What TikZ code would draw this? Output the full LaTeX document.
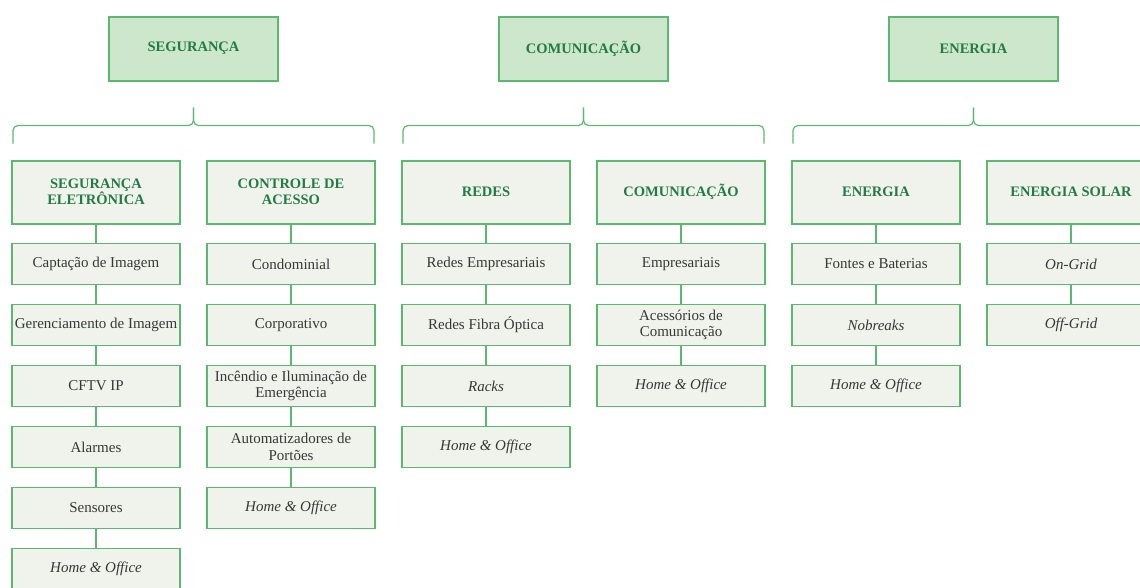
\documentclass[tikz,border=0pt]{standalone}
\usepackage{fontspec}
\setmainfont{Liberation Serif}
\usetikzlibrary{positioning,calc}
\definecolor{boxline}{RGB}{92,184,112}
\definecolor{topfill}{RGB}{204,231,204}
\definecolor{headfill}{RGB}{240,243,236}
\definecolor{headtext}{RGB}{36,122,70}
\definecolor{leaftext}{RGB}{55,55,55}

\begin{document}
\begin{tikzpicture}[x=1pt, y=1pt]
% STYLES
\tikzset{%
    topbox/.style={%
rectangle,
draw=boxline,
line width=2pt,
outer sep=0pt,
fill=topfill,
minimum width=169pt,
minimum height=64pt,
text=headtext,
font=\fontsize{14.5}{16}\selectfont\bfseries
                          },
    headbox/.style={%
rectangle,
draw=boxline,
line width=2pt,
outer sep=0pt,
fill=headfill,
minimum width=168pt,
minimum height=63pt,
align=center,
text=headtext,
font=\fontsize{14.5}{16.5}\selectfont\bfseries
                          },
    item/.style={%
rectangle,
draw=boxline,
line width=1.8pt,
outer sep=0pt,
fill=headfill,
node distance=20pt,
inner sep=2pt,
minimum width=168pt,
minimum height=41pt,
align=center,
text=leaftext,
font=\fontsize{15}{16.5}\selectfont
                          },
    link/.style={draw=boxline, line width=1.6pt},
    curly/.style={draw=boxline, line width=1.2pt, rounded corners=5pt}
             }

\useasboundingbox (0,0) rectangle (1140,-587);

% Draw categories
\node [headbox] (segEle) at (96,-192) {SEGURANÇA\\ELETRÔNICA};
\node [headbox, right=27pt of segEle] (ctrlAcc) {CONTROLE DE\\ACESSO};
\node [headbox, right=27pt of ctrlAcc] (redes) {REDES};
\node [headbox, right=27pt of redes] (comun) {COMUNICAÇÃO};
\node [headbox, right=27pt of comun] (energia) {ENERGIA};
\node [headbox, right=27pt of energia] (solar) {ENERGIA SOLAR};

% Draw areas
\path (segEle.north) -- (ctrlAcc.north) coordinate[midway] (segMid);
\path (redes.north) -- (comun.north) coordinate[midway] (comMid);
\path (energia.north) -- (solar.north) coordinate[midway] (eneMid);
\node [topbox, above=80pt of segMid] (segTop) {SEGURANÇA};
\node [topbox, above=80pt of comMid] (comTop) {COMUNICAÇÃO};
\node [topbox, above=80pt of eneMid] (eneTop) {ENERGIA};

% Draw braces
\draw [curly] ($(segEle.north west)+(1,17)$) |- ($(segMid)+(0,35)$) -- ($(segMid)+(0,53)$);
\draw [curly] ($(ctrlAcc.north east)+(-1,17)$) |- ($(segMid)+(0,35)$) -- ($(segMid)+(0,53)$);
\draw [curly] ($(redes.north west)+(1,17)$) |- ($(comMid)+(0,35)$) -- ($(comMid)+(0,53)$);
\draw [curly] ($(comun.north east)+(-1,17)$) |- ($(comMid)+(0,35)$) -- ($(comMid)+(0,53)$);
\draw [curly] ($(energia.north west)+(1,17)$) |- ($(eneMid)+(0,35)$) -- ($(eneMid)+(0,53)$);
\draw [curly] ($(solar.north east)+(-1,17)$) |- ($(eneMid)+(0,35)$) -- ($(eneMid)+(0,53)$);

% Draw products
\node [item, below=of segEle] (camImg) {Captação de Imagem};
\node [item, below=of camImg] (gerImg) {Gerenciamento de Imagem};
\node [item, below=of gerImg] (cftv) {CFTV IP};
\node [item, below=of cftv] (alarm) {Alarmes};
\node [item, below=of alarm] (sensor) {Sensores};
\node [item, below=of sensor] (segHome) {\itshape Home \& Office};

\node [item, below=of ctrlAcc] (cond) {Condominial};
\node [item, below=of cond] (corp) {Corporativo};
\node [item, below=of corp] (incend) {Incêndio e Iluminação de\\Emergência};
\node [item, below=of incend] (autom) {Automatizadores de\\Portões};
\node [item, below=of autom] (ctrlHome) {\itshape Home \& Office};

\node [item, below=of redes] (redEmp) {Redes Empresariais};
\node [item, below=of redEmp] (redFib) {Redes Fibra Óptica};
\node [item, below=of redFib] (racks) {\itshape Racks};
\node [item, below=of racks] (redHome) {\itshape Home \& Office};

\node [item, below=of comun] (comEmp) {Empresariais};
\node [item, below=of comEmp] (comAcc) {Acessórios de\\Comunicação};
\node [item, below=of comAcc] (comHome) {\itshape Home \& Office};

\node [item, below=of energia] (fontes) {Fontes e Baterias};
\node [item, below=of fontes] (nobreak) {\itshape Nobreaks};
\node [item, below=of nobreak] (eneHome) {\itshape Home \& Office};

\node [item, below=of solar] (onGrid) {\itshape On-Grid};
\node [item, below=of onGrid] (offGrid) {\itshape Off-Grid};

% Draw the links between boxes
\path[link]
(segEle) edge (camImg)
(camImg) edge (gerImg)
(gerImg) edge (cftv)
(cftv) edge (alarm)
(alarm) edge (sensor)
(sensor) edge (segHome)
(ctrlAcc) edge (cond)
(cond) edge (corp)
(corp) edge (incend)
(incend) edge (autom)
(autom) edge (ctrlHome)
(redes) edge (redEmp)
(redEmp) edge (redFib)
(redFib) edge (racks)
(racks) edge (redHome)
(comun) edge (comEmp)
(comEmp) edge (comAcc)
(comAcc) edge (comHome)
(energia) edge (fontes)
(fontes) edge (nobreak)
(nobreak) edge (eneHome)
(solar) edge (onGrid)
(onGrid) edge (offGrid);
\end{tikzpicture}
\end{document}
